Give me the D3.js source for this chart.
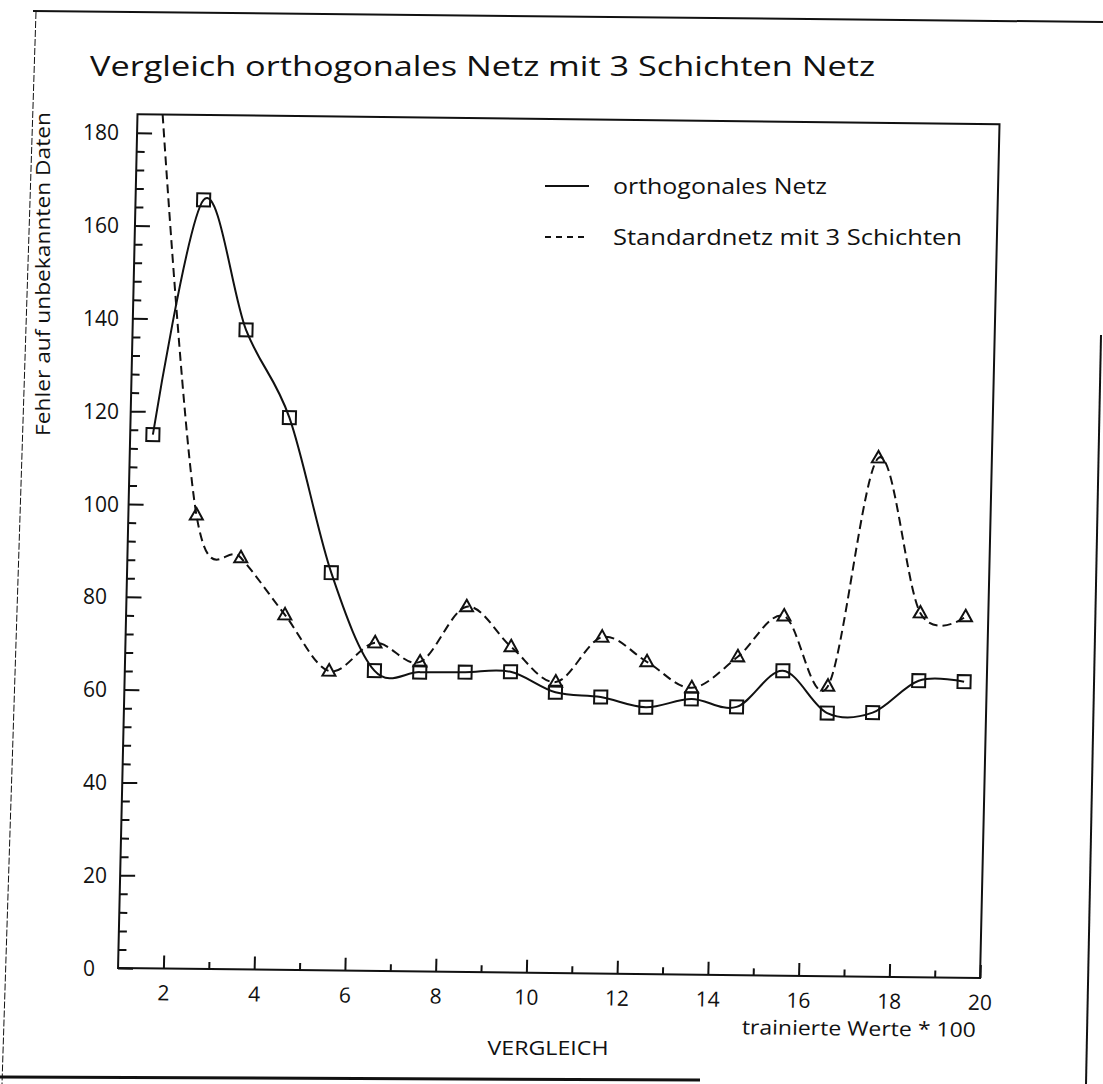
<!DOCTYPE html>
<html>
<head>
<meta charset="utf-8">
<script src="https://cdn.jsdelivr.net/npm/d3@7"></script>
<style>
  body { margin: 0; background: white; }
  text { font-family: "Open Sans", "DejaVu Sans", sans-serif; fill: #111; }
</style>
</head>
<body>
<div id="chart"></div>
<script>
const xValues = [1.5, 2.5, 3.5, 4.5, 5.5, 6.5, 7.5, 8.5, 9.5, 10.5, 11.5, 12.5, 13.5, 14.5, 15.5, 16.5, 17.5, 18.5, 19.5];
const orthoValues = [115, 165.7, 137.8, 119, 85.7, 64.7, 64.5, 64.6, 64.8, 60.5, 59.6, 57.5, 59.4, 57.8, 65.7, 56.7, 56.9, 63.9, 63.8];
const standardValues = [190, 97.8, 88.7, 76.5, 64.5, 70.7, 66.7, 78.7, 70.2, 62.7, 72.5, 67.3, 61.8, 68.6, 77.5, 62.5, 111.8, 78.5, 77.8];
const xMajorTicks = [2, 4, 6, 8, 10, 12, 14, 16, 18, 20];
const xMinorTicks = [3, 5, 7, 9, 11, 13, 15, 17, 19];
const yMajorTicks = [0, 20, 40, 60, 80, 100, 120, 140, 160, 180];
const yMinorTicks = [4, 8, 12, 16, 24, 28, 32, 36, 44, 48, 52, 56, 64, 68, 72, 76, 84, 88, 92, 96,
  104, 108, 112, 116, 124, 128, 132, 136, 144, 148, 152, 156, 164, 168, 172, 176];
const seriesNames = ["orthogonales Netz", "Standardnetz mit 3 Schichten"];

const W = 1103, H = 1084;
const PW = 862, PH = 853.8;
// the scanned sheet is slightly skewed, so the plot frame gets a small shear
const SKEW = { a: 1, b: 0.0116, c: -0.0228, d: 1, e: 137.5, f: 114.2 };

const svg = d3.select("#chart")
  .append("svg")
  .attr("width", W)
  .attr("height", H)
  .style("background", "white");

// page borders from the scan
const ink = "#111";
svg.append("line").attr("x1", 33).attr("y1", 11).attr("x2", 1103).attr("y2", 22)
  .attr("stroke", ink).attr("stroke-width", 2);
svg.append("line").attr("x1", 36).attr("y1", 12).attr("x2", 2).attr("y2", 1084)
  .attr("stroke", ink).attr("stroke-width", 1).attr("stroke-dasharray", "7,2");
svg.append("line").attr("x1", 0).attr("y1", 1077).attr("x2", 700).attr("y2", 1080)
  .attr("stroke", ink).attr("stroke-width", 3);
svg.append("line").attr("x1", 1101).attr("y1", 335).attr("x2", 1086).attr("y2", 1084)
  .attr("stroke", ink).attr("stroke-width", 2);

svg.append("text")
  .attr("x", 90)
  .attr("y", 76)
  .attr("font-size", 28)
  .attr("textLength", 785)
  .attr("lengthAdjust", "spacingAndGlyphs")
  .text("Vergleich orthogonales Netz mit 3 Schichten Netz");

const xScale = d3.scaleLinear().domain([1, 20]).range([0, PW]);
const yScale = d3.scaleLinear().domain([0, 184]).range([PH, 0]);

const g = svg.append("g")
  .attr("transform", `matrix(${SKEW.a},${SKEW.b},${SKEW.c},${SKEW.d},${SKEW.e},${SKEW.f})`);

g.append("clipPath").attr("id", "plot-clip")
  .append("rect").attr("width", PW).attr("height", PH);

// x axis: long ticks on even values, short on odd ones, all pointing inward
const xMajor = g.append("g")
  .attr("transform", `translate(0, ${PH})`)
  .call(d3.axisBottom(xScale).tickValues(xMajorTicks).tickSize(-13).tickPadding(17));
const xMinor = g.append("g")
  .attr("transform", `translate(0, ${PH})`)
  .call(d3.axisBottom(xScale).tickValues(xMinorTicks).tickSize(-7).tickFormat(""));

const yMajor = g.append("g")
  .call(d3.axisLeft(yScale).tickValues(yMajorTicks).tickSize(-15).tickFormat(""));
const yMinor = g.append("g")
  .call(d3.axisLeft(yScale).tickValues(yMinorTicks).tickSize(-8).tickFormat(""));

[xMajor, xMinor, yMajor, yMinor].forEach((ax) => {
  ax.select(".domain").remove();
  ax.selectAll("line").attr("stroke", ink).attr("stroke-width", 2);
});
xMajor.selectAll("text")
  .attr("font-size", 21)
  .style("font-family", "'Open Sans', sans-serif")
  .attr("fill", ink);

g.append("rect")
  .attr("width", PW)
  .attr("height", PH)
  .attr("fill", "none")
  .attr("stroke", ink)
  .attr("stroke-width", 2);

g.append("text")
  .attr("x", PW - 3)
  .attr("y", PH + 59)
  .attr("text-anchor", "end")
  .attr("font-size", 20)
  .attr("textLength", 234)
  .attr("lengthAdjust", "spacingAndGlyphs")
  .text("trainierte Werte * 100");

// y labels are not sheared in the scan
svg.append("g")
  .attr("transform", `translate(0, ${SKEW.f})`)
  .selectAll("text")
  .data(yMajorTicks)
  .enter()
  .append("text")
  .attr("x", 83)
  .attr("y", (d) => yScale(d))
  .attr("dy", "0.36em")
  .attr("font-size", 21)
  .text((d) => d);

svg.append("text")
  .attr("transform", "translate(50, 274) rotate(-90)")
  .attr("text-anchor", "middle")
  .attr("font-size", 20)
  .attr("textLength", 324)
  .attr("lengthAdjust", "spacingAndGlyphs")
  .text("Fehler auf unbekannten Daten");

svg.append("text")
  .attr("x", 548)
  .attr("y", 1055)
  .attr("text-anchor", "middle")
  .attr("font-size", 20)
  .attr("textLength", 121)
  .attr("lengthAdjust", "spacingAndGlyphs")
  .text("VERGLEICH");

const plot = g.append("g").attr("clip-path", "url(#plot-clip)");

const line = d3.line()
  .x((d) => xScale(d[0]))
  .y((d) => yScale(d[1]))
  .curve(d3.curveCardinal.tension(0));

const orthoData = xValues.map((x, i) => [x, orthoValues[i]]);
const standardData = xValues.map((x, i) => [x, standardValues[i]]);

plot.append("path")
  .attr("d", line(standardData))
  .attr("fill", "none")
  .attr("stroke", ink)
  .attr("stroke-width", 2)
  .attr("stroke-dasharray", "9,5");

plot.append("path")
  .attr("d", line(orthoData))
  .attr("fill", "none")
  .attr("stroke", ink)
  .attr("stroke-width", 2);

plot.selectAll(".square")
  .data(orthoData)
  .enter()
  .append("rect")
  .attr("class", "square")
  .attr("x", (d) => xScale(d[0]) - 6.5)
  .attr("y", (d) => yScale(d[1]) - 6.5)
  .attr("width", 13)
  .attr("height", 13)
  .attr("fill", "none")
  .attr("stroke", ink)
  .attr("stroke-width", 2);

plot.selectAll(".triangle")
  .data(standardData)
  .enter()
  .append("path")
  .attr("class", "triangle")
  .attr("transform", (d) => `translate(${xScale(d[0])}, ${yScale(d[1])})`)
  .attr("d", "M0,-7L6.5,4.5L-6.5,4.5Z")
  .attr("fill", "none")
  .attr("stroke", ink)
  .attr("stroke-width", 2);

// legend
const legend = svg.append("g");
const legendRows = [
  { name: seriesNames[0], y: 186, dash: null, len: 214 },
  { name: seriesNames[1], y: 237, dash: "6,5", len: 349 },
];
legendRows.forEach((r) => {
  legend.append("line")
    .attr("x1", 545).attr("x2", 589)
    .attr("y1", r.y).attr("y2", r.y)
    .attr("stroke", ink)
    .attr("stroke-width", 2)
    .attr("stroke-dasharray", r.dash);
  legend.append("text")
    .attr("x", 613)
    .attr("y", r.y)
    .attr("dy", "0.36em")
    .attr("font-size", 22)
    .attr("textLength", r.len)
    .attr("lengthAdjust", "spacingAndGlyphs")
    .text(r.name);
});
</script>
</body>
</html>
